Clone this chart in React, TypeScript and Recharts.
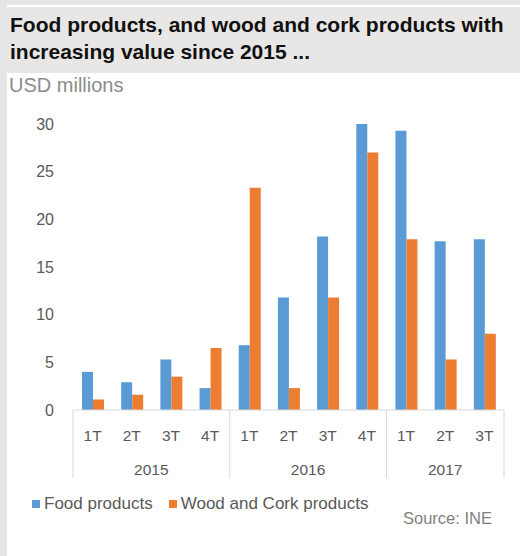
import React from 'react'
import { BarChart, Bar, XAxis, YAxis } from 'recharts'

const quarters = ['1T', '2T', '3T', '4T', '1T', '2T', '3T', '4T', '1T', '2T', '3T']
const years = ['2015', '2015', '2015', '2015', '2016', '2016', '2016', '2016', '2017', '2017', '2017']
const foodProducts = [4.0, 2.9, 5.3, 2.3, 6.8, 11.8, 18.2, 30.0, 29.3, 17.7, 17.9]
const woodCork = [1.1, 1.6, 3.5, 6.5, 23.3, 2.3, 11.8, 27.0, 17.9, 5.3, 8.0]
const yTicks = [0, 5, 10, 15, 20, 25, 30]

const data = quarters.map((q, i) => ({
  q,
  year: years[i],
  food: foodProducts[i],
  wood: woodCork[i],
}))

const FONT = '"Liberation Sans", Arial, Helvetica, sans-serif'
const BLUE = '#5b9bd5'
const ORANGE = '#ed7d31'
const TEXT = '#595959'
const AXIS = '#d9d9d9'

const series = [
  { key: 'food', name: 'Food products', color: BLUE },
  { key: 'wood', name: 'Wood and Cork products', color: ORANGE },
]

const W = 520
const H = 480
const M = { top: 124, right: 16, bottom: 0, left: 0 }
const Y_W = 73
const BAND = (W - M.left - M.right - Y_W) / quarters.length

/* ── two-level category tick: quarter + year with separators ── */
function QuarterYearTick(props: any) {
  const { x, y, payload, index } = props
  const i = index ?? payload.index
  const year = years[i]
  const first = i === 0 || years[i - 1] !== year
  const last = i === years.length - 1
  const count = years.filter((v) => v === year).length
  const axisY = y - 8
  const left = x - BAND / 2
  return (
    <g>
      <text x={x} y={y + 23} textAnchor="middle" fill={TEXT} fontSize={15.5} fontFamily={FONT}>
        {payload.value}
      </text>
      {first && (
        <>
          <line x1={left} x2={left} y1={axisY} y2={axisY + 68} stroke={AXIS} strokeWidth={1} />
          <text x={left + (count * BAND) / 2} y={y + 57} textAnchor="middle" fill={TEXT} fontSize={15.5} fontFamily={FONT}>
            {year}
          </text>
        </>
      )}
      {last && <line x1={x + BAND / 2} x2={x + BAND / 2} y1={axisY} y2={axisY + 68} stroke={AXIS} strokeWidth={1} />}
    </g>
  )
}

export default function App() {
  return (
    <div style={{ position: 'absolute', left: 0, top: 0, width: 520, height: 556, background: '#e4e5e7', overflow: 'hidden' }}>
      <div style={{ position: 'absolute', left: 7, top: 5, right: 0, bottom: 0, background: '#ffffff' }} />
      <div style={{ position: 'absolute', left: 7, top: 7, right: 0, height: 66, background: '#e8e7e5' }} />
      <div
        style={{
          position: 'absolute', left: 10, top: 11, width: 510,
          fontFamily: FONT, fontWeight: 'bold', fontSize: 21, lineHeight: '27px', color: '#111',
        }}
      >
        Food products, and wood and cork products with
        <br />
        increasing value since 2015 ...
      </div>
      <div style={{ position: 'absolute', left: 9, top: 74, fontFamily: FONT, fontSize: 20, color: '#8c8c8c' }}>
        USD millions
      </div>
      <div style={{ position: 'absolute', left: 0, top: 0 }}>
        <BarChart width={W} height={H} data={data} margin={M} barGap={0} barSize={11}>
          <XAxis
            dataKey="q"
            interval={0}
            height={70}
            tickLine={false}
            axisLine={{ stroke: AXIS }}
            tick={<QuarterYearTick />}
          />
          <YAxis
            width={Y_W}
            domain={[0, 30]}
            ticks={yTicks}
            axisLine={false}
            tickLine={false}
            tickSize={6}
            tickMargin={13}
            tick={{ fontSize: 16, fill: TEXT, fontFamily: FONT }}
          />
          {series.map((s) => (
            <Bar key={s.key} dataKey={s.key} name={s.name} fill={s.color} isAnimationActive={false} />
          ))}
        </BarChart>
      </div>
      <div
        style={{
          position: 'absolute', left: 32, top: 494, display: 'flex', alignItems: 'center',
          fontFamily: FONT, fontSize: 17, color: TEXT, whiteSpace: 'nowrap',
        }}
      >
        {series.map((s) => (
          <div key={s.key} style={{ display: 'flex', alignItems: 'center', marginRight: 16 }}>
            <span style={{ display: 'inline-block', width: 8, height: 8, background: s.color, marginRight: 4 }} />
            <span>{s.name}</span>
          </div>
        ))}
      </div>
      <div style={{ position: 'absolute', left: 403, top: 509, fontFamily: FONT, fontSize: 16.5, color: '#7f7f7f' }}>
        Source: INE
      </div>
    </div>
  )
}
